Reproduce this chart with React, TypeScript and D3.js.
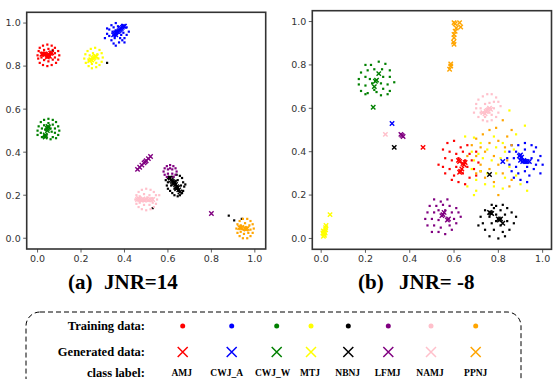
import React from "react";
import * as d3 from "d3";

type P = [number, number];

const classLabels = ["AMJ", "CWJ_A", "CWJ_W", "MTJ", "NBNJ", "LFMJ", "NAMJ", "PPNJ"];
const classColors = ["#ff0000", "#0000ff", "#008000", "#ffff00", "#000000", "#800080", "#ffc0cb", "#ffa500"];
const xTicks = [0, 0.2, 0.4, 0.6, 0.8, 1.0];
const yTicks = [0, 0.2, 0.4, 0.6, 0.8, 1.0];
const panelTitles = [["(a)", "JNR=14"], ["(b)", "JNR= -8"]];
const rowLabels = ["Training data:", "Generated data:", "class label:"];

// ---------- Panel A (JNR=14) ----------
const aTrainAMJ: P[] = [[0.0,0.85],[0.005,0.87],[0.01,0.885],[0.025,0.895],[0.045,0.9],[0.065,0.895],[0.08,0.885],[0.095,0.87],[0.1,0.85],[0.095,0.83],[0.085,0.815],[0.065,0.805],[0.045,0.8],[0.025,0.805],[0.01,0.815],[0.003,0.835],[0.02,0.86],[0.03,0.875],[0.05,0.88],[0.07,0.875],[0.08,0.86],[0.08,0.84],[0.07,0.83],[0.05,0.822],[0.03,0.828],[0.018,0.84]];
const aGenAMJ: P[] = [[0.02,0.855],[0.025,0.857],[0.03,0.855],[0.035,0.856],[0.045,0.85],[0.05,0.848],[0.055,0.845],[0.06,0.86],[0.065,0.862],[0.045,0.842],[0.05,0.855]];
const aTrainCWJA: P[] = [[0.31,0.93],[0.32,0.95],[0.33,0.97],[0.34,0.99],[0.36,1.0],[0.33,0.94],[0.34,0.92],[0.35,0.905],[0.36,0.895],[0.375,0.91],[0.39,0.92],[0.4,0.93],[0.41,0.945],[0.42,0.96],[0.41,0.98],[0.39,0.99],[0.35,0.98],[0.345,0.96],[0.355,0.93],[0.38,0.93],[0.395,0.955],[0.32,0.975],[0.37,0.985],[0.4,0.91],[0.36,0.96],[0.385,0.945]];
const aGenCWJA: P[] = [[0.35,0.945],[0.355,0.95],[0.36,0.955],[0.365,0.96],[0.37,0.96],[0.375,0.965],[0.38,0.97],[0.385,0.975],[0.39,0.98],[0.395,0.985],[0.4,0.985],[0.36,0.945]];
const aTrainCWJW: P[] = [[0.0,0.48],[0.0,0.5],[0.005,0.52],[0.015,0.54],[0.03,0.55],[0.05,0.555],[0.07,0.55],[0.085,0.54],[0.095,0.52],[0.1,0.5],[0.095,0.48],[0.085,0.465],[0.015,0.49],[0.02,0.51],[0.03,0.525],[0.05,0.535],[0.07,0.528],[0.08,0.51],[0.08,0.49],[0.07,0.47],[0.06,0.46],[0.035,0.505],[0.045,0.515],[0.06,0.51],[0.065,0.495],[0.02,0.47]];
const aGenCWJW: P[] = [[0.045,0.5],[0.045,0.51],[0.048,0.52],[0.05,0.515],[0.035,0.47],[0.037,0.475],[0.035,0.48]];
const aTrainMTJ: P[] = [[0.215,0.835],[0.22,0.855],[0.23,0.87],[0.245,0.88],[0.265,0.885],[0.285,0.875],[0.295,0.86],[0.3,0.84],[0.295,0.82],[0.285,0.805],[0.27,0.795],[0.25,0.79],[0.235,0.8],[0.222,0.815],[0.24,0.85],[0.255,0.86],[0.275,0.855],[0.28,0.835],[0.27,0.815],[0.25,0.81],[0.235,0.825]];
const aGenMTJ: P[] = [[0.24,0.825],[0.245,0.83],[0.25,0.828],[0.26,0.84],[0.265,0.845],[0.27,0.845],[0.255,0.835]];
const aTrainNBNJ: P[] = [[0.59,0.27],[0.6,0.26],[0.6,0.23],[0.61,0.22],[0.62,0.21],[0.63,0.2],[0.645,0.195],[0.655,0.2],[0.665,0.21],[0.67,0.22],[0.675,0.24],[0.67,0.26],[0.665,0.28],[0.655,0.29],[0.64,0.295],[0.625,0.285],[0.61,0.285],[0.6,0.28],[0.615,0.245],[0.63,0.23],[0.66,0.245],[0.645,0.27],[0.595,0.245],[0.68,0.25],[0.65,0.22],[0.53,0.14],[0.88,0.105],[0.905,0.083],[0.94,0.09],[0.32,0.815],[0.07,0.87]];
const aGenNBNJ: P[] = [[0.61,0.28],[0.615,0.27],[0.62,0.265],[0.625,0.26],[0.63,0.255],[0.635,0.25],[0.64,0.24],[0.645,0.235],[0.65,0.225],[0.655,0.215],[0.63,0.26],[0.64,0.23]];
const aTrainLFMJ: P[] = [[0.58,0.31],[0.585,0.325],[0.595,0.335],[0.61,0.34],[0.625,0.335],[0.635,0.325],[0.64,0.31],[0.635,0.295],[0.625,0.285],[0.61,0.28],[0.595,0.285],[0.585,0.295],[0.6,0.32],[0.62,0.32],[0.6,0.3],[0.62,0.3],[0.61,0.325]];
const aGenLFMJ: P[] = [[0.46,0.32],[0.47,0.33],[0.48,0.34],[0.49,0.35],[0.495,0.355],[0.5,0.36],[0.51,0.37],[0.52,0.38],[0.8,0.115]];
const aTrainNAMJ: P[] = [[0.45,0.18],[0.455,0.2],[0.465,0.215],[0.48,0.225],[0.5,0.23],[0.52,0.225],[0.535,0.215],[0.545,0.2],[0.55,0.18],[0.545,0.16],[0.535,0.145],[0.52,0.135],[0.5,0.13],[0.48,0.135],[0.465,0.145],[0.455,0.16],[0.47,0.195],[0.49,0.205],[0.515,0.2],[0.53,0.185],[0.53,0.165],[0.515,0.155],[0.49,0.155],[0.47,0.165],[0.56,0.2],[0.505,0.19]];
const aGenNAMJ: P[] = [[0.46,0.18],[0.47,0.18],[0.48,0.178],[0.49,0.177],[0.5,0.18],[0.51,0.178],[0.52,0.18],[0.53,0.18],[0.465,0.185],[0.485,0.183]];
const aTrainPPNJ: P[] = [[0.915,0.045],[0.92,0.065],[0.93,0.08],[0.945,0.09],[0.965,0.09],[0.98,0.08],[0.99,0.065],[0.995,0.045],[0.99,0.025],[0.98,0.01],[0.965,0.0],[0.945,0.0],[0.93,0.01],[0.92,0.025],[0.935,0.06],[0.955,0.07],[0.975,0.06],[0.98,0.04],[0.97,0.025],[0.95,0.02],[0.935,0.03]];
const aGenPPNJ: P[] = [[0.93,0.05],[0.935,0.048],[0.94,0.05],[0.955,0.045],[0.96,0.043],[0.965,0.045]];

// ---------- Panel B (JNR=-8) ----------
const bTrainAMJ: P[] = [[0.57,0.44],[0.6,0.45],[0.63,0.42],[0.66,0.43],[0.55,0.41],[0.58,0.4],[0.61,0.39],[0.64,0.4],[0.67,0.39],[0.7,0.4],[0.56,0.37],[0.59,0.36],[0.62,0.37],[0.65,0.36],[0.68,0.36],[0.71,0.35],[0.55,0.33],[0.58,0.32],[0.61,0.33],[0.66,0.33],[0.69,0.32],[0.72,0.31],[0.56,0.3],[0.6,0.29],[0.64,0.3],[0.67,0.28],[0.59,0.27],[0.62,0.26],[0.65,0.25],[0.7,0.29],[0.53,0.34]];
const bGenAMJ: P[] = [[0.63,0.31],[0.625,0.305],[0.635,0.32],[0.64,0.345],[0.65,0.35],[0.645,0.34],[0.62,0.36],[0.625,0.355],[0.46,0.42]];
const bTrainCWJA: P[] = [[0.86,0.43],[0.89,0.43],[0.92,0.44],[0.95,0.43],[0.97,0.42],[0.85,0.4],[0.88,0.4],[0.92,0.41],[0.96,0.4],[0.99,0.38],[0.84,0.37],[0.87,0.37],[0.95,0.37],[0.98,0.36],[1.0,0.34],[0.85,0.34],[0.88,0.33],[0.93,0.33],[0.96,0.32],[0.99,0.3],[0.86,0.31],[0.89,0.3],[0.92,0.31],[0.94,0.29],[0.9,0.27],[0.93,0.26],[0.87,0.28],[0.97,0.34]];
const bGenCWJA: P[] = [[0.895,0.38],[0.9,0.385],[0.905,0.375],[0.91,0.355],[0.92,0.355],[0.93,0.355],[0.94,0.355],[0.9,0.36],[0.915,0.36],[0.82,0.355],[0.32,0.53]];
const bTrainCWJW: P[] = [[0.2,0.8],[0.225,0.8],[0.26,0.815],[0.29,0.805],[0.18,0.765],[0.21,0.775],[0.24,0.78],[0.275,0.78],[0.31,0.775],[0.17,0.735],[0.2,0.745],[0.22,0.735],[0.28,0.745],[0.31,0.745],[0.33,0.72],[0.17,0.71],[0.2,0.705],[0.23,0.715],[0.27,0.715],[0.3,0.71],[0.18,0.68],[0.21,0.67],[0.25,0.675],[0.28,0.69],[0.31,0.68],[0.2,0.665],[0.27,0.66],[0.24,0.685],[0.3,0.665]];
const bGenCWJW: P[] = [[0.26,0.76],[0.25,0.73],[0.245,0.725],[0.24,0.7],[0.235,0.605]];
const bTrainMTJ: P[] = [[0.65,0.47],[0.69,0.465],[0.72,0.44],[0.78,0.47],[0.82,0.44],[0.85,0.59],[0.92,0.52],[0.88,0.48],[0.68,0.4],[0.71,0.39],[0.75,0.41],[0.79,0.42],[0.83,0.4],[0.87,0.41],[0.69,0.36],[0.73,0.37],[0.77,0.36],[0.81,0.37],[0.85,0.33],[0.68,0.32],[0.72,0.31],[0.75,0.3],[0.79,0.3],[0.83,0.28],[0.88,0.29],[0.7,0.27],[0.74,0.25],[0.78,0.24],[0.82,0.23],[0.66,0.24],[0.7,0.22],[0.9,0.25],[0.93,0.22],[0.69,0.2]];
const bGenMTJ: P[] = [[0.01,0.01],[0.012,0.02],[0.015,0.03],[0.01,0.035],[0.02,0.04],[0.02,0.05],[0.022,0.06],[0.015,0.015],[0.008,0.025],[0.018,0.025],[0.04,0.11]];
const bTrainNBNJ: P[] = [[0.77,0.155],[0.79,0.15],[0.82,0.155],[0.74,0.13],[0.78,0.14],[0.81,0.13],[0.84,0.14],[0.72,0.1],[0.76,0.1],[0.79,0.11],[0.83,0.11],[0.86,0.12],[0.73,0.07],[0.77,0.07],[0.81,0.06],[0.84,0.08],[0.87,0.07],[0.74,0.04],[0.78,0.04],[0.82,0.03],[0.85,0.04],[0.76,0.01],[0.8,0.0],[0.83,0.01],[0.71,0.06],[0.88,0.1],[0.79,0.08]];
const bGenNBNJ: P[] = [[0.76,0.12],[0.765,0.118],[0.77,0.115],[0.8,0.09],[0.805,0.085],[0.81,0.09],[0.82,0.07],[0.76,0.295],[0.33,0.42]];
const bTrainLFMJ: P[] = [[0.51,0.18],[0.54,0.17],[0.57,0.18],[0.49,0.15],[0.52,0.15],[0.55,0.155],[0.58,0.15],[0.61,0.14],[0.48,0.12],[0.51,0.12],[0.53,0.13],[0.56,0.13],[0.59,0.12],[0.62,0.12],[0.47,0.09],[0.5,0.09],[0.53,0.085],[0.6,0.09],[0.63,0.1],[0.48,0.06],[0.51,0.06],[0.54,0.05],[0.58,0.06],[0.61,0.07],[0.5,0.03],[0.53,0.03],[0.56,0.02],[0.59,0.04]];
const bGenLFMJ: P[] = [[0.545,0.105],[0.55,0.11],[0.555,0.12],[0.575,0.09],[0.57,0.085],[0.36,0.48],[0.365,0.475],[0.37,0.47]];
const bTrainNAMJ: P[] = [[0.7,0.62],[0.71,0.64],[0.73,0.655],[0.75,0.665],[0.77,0.665],[0.79,0.65],[0.8,0.63],[0.81,0.61],[0.8,0.58],[0.79,0.56],[0.77,0.545],[0.75,0.54],[0.73,0.545],[0.71,0.56],[0.69,0.58],[0.72,0.6],[0.74,0.62],[0.76,0.625],[0.78,0.6],[0.77,0.57],[0.74,0.56],[0.72,0.58],[0.75,0.6],[0.76,0.58],[0.78,0.63],[0.7,0.6]];
const bGenNAMJ: P[] = [[0.73,0.58],[0.74,0.575],[0.75,0.59],[0.76,0.6],[0.765,0.595],[0.745,0.585],[0.29,0.48]];
const bTrainPPNJ: P[] = [[0.7,0.46],[0.73,0.48],[0.76,0.5],[0.79,0.51],[0.82,0.545],[0.86,0.5],[0.68,0.43],[0.72,0.42],[0.76,0.44],[0.8,0.45],[0.84,0.47],[0.86,0.43],[0.66,0.38],[0.7,0.38],[0.74,0.4],[0.78,0.38],[0.83,0.42],[0.72,0.34],[0.76,0.32],[0.8,0.34],[0.84,0.36],[0.74,0.28],[0.78,0.26],[0.82,0.3],[0.86,0.27],[0.7,0.3],[0.8,0.2],[0.85,0.24]];
const bGenPPNJ: P[] = [[0.6,0.995],[0.605,0.99],[0.625,0.995],[0.61,0.97],[0.605,0.955],[0.6,0.94],[0.6,0.925],[0.598,0.905],[0.6,0.895],[0.63,0.975],[0.58,0.78],[0.585,0.795],[0.585,0.805]];

const panelATrain = [aTrainAMJ, aTrainCWJA, aTrainCWJW, aTrainMTJ, aTrainNBNJ, aTrainLFMJ, aTrainNAMJ, aTrainPPNJ];
const panelAGen = [aGenAMJ, aGenCWJA, aGenCWJW, aGenMTJ, aGenNBNJ, aGenLFMJ, aGenNAMJ, aGenPPNJ];
const panelBTrain = [bTrainAMJ, bTrainCWJA, bTrainCWJW, bTrainMTJ, bTrainNBNJ, bTrainLFMJ, bTrainNAMJ, bTrainPPNJ];
const panelBGen = [bGenAMJ, bGenCWJA, bGenCWJW, bGenMTJ, bGenNBNJ, bGenLFMJ, bGenNAMJ, bGenPPNJ];

const W = 553;
const H = 379;

function Panel({ frame, xDom, yDom, train, gen }: { frame: { l: number; r: number; t: number; b: number }; xDom: [number, number]; yDom: [number, number]; train: P[][]; gen: P[][] }) {
  const x = d3.scaleLinear().domain(xDom).range([frame.l, frame.r]);
  const y = d3.scaleLinear().domain(yDom).range([frame.b, frame.t]);
  const fmt = d3.format(".1f");
  const xs = 2.2;
  return (
    <g>
      <rect x={frame.l} y={frame.t} width={frame.r - frame.l} height={frame.b - frame.t} fill="#fff" />
      {train.map((pts, ci) =>
        pts.map((p, i) => (
          <rect key={`t${ci}-${i}`} x={x(p[0]) - 1.1} y={y(p[1]) - 1.1} width={2.2} height={2.2} fill={classColors[ci]} />
        ))
      )}
      {gen.map((pts, ci) =>
        pts.map((p, i) => {
          const cx = x(p[0]);
          const cy = y(p[1]);
          return (
            <path key={`g${ci}-${i}`} d={`M${cx - xs},${cy - xs}L${cx + xs},${cy + xs}M${cx - xs},${cy + xs}L${cx + xs},${cy - xs}`} stroke={classColors[ci]} strokeWidth={1.4} fill="none" />
          );
        })
      )}
      <rect x={frame.l} y={frame.t} width={frame.r - frame.l} height={frame.b - frame.t} fill="none" stroke="#333" strokeWidth={1.6} />
      {xTicks.map((t) => (
        <g key={`xt${t}`}>
          <line x1={x(t)} x2={x(t)} y1={frame.b} y2={frame.b + 3.5} stroke="#333" strokeWidth={0.8} />
          <text x={x(t)} y={frame.b + 12.5} fontSize={9.5} fill="#333" textAnchor="middle" fontFamily="DejaVu Sans">{fmt(t)}</text>
        </g>
      ))}
      {yTicks.map((t) => (
        <g key={`yt${t}`}>
          <line x1={frame.l - 3.5} x2={frame.l} y1={y(t)} y2={y(t)} stroke="#333" strokeWidth={0.8} />
          <text x={frame.l - 6} y={y(t) + 3.4} fontSize={9.5} fill="#333" textAnchor="end" fontFamily="DejaVu Sans">{fmt(t)}</text>
        </g>
      ))}
    </g>
  );
}

const legendX = [182.7, 231.7, 276.7, 311, 348.3, 388.3, 431, 475.7];
const legendLabelX = [181.7, 226.7, 272.7, 310, 347.7, 387.7, 430, 475.7];

export default function App() {
  const serif = "'Liberation Serif', 'Times New Roman', serif";
  return (
    <div style={{ position: "absolute", left: 0, top: 0, width: W, height: H, background: "#fff" }}>
      <svg width={W} height={H} viewBox={`0 0 ${W} ${H}`} style={{ display: "block" }}>
        <rect width={W} height={H} fill="#fff" />
        <Panel frame={{ l: 26.7, r: 265.7, t: 12.3, b: 249 }} xDom={[-0.05, 1.05]} yDom={[-0.05, 1.05]} train={panelATrain} gen={panelAGen} />
        <Panel frame={{ l: 312.3, r: 551.5, t: 10.7, b: 249.3 }} xDom={[-0.04, 1.04]} yDom={[-0.05, 1.05]} train={panelBTrain} gen={panelBGen} />
        <text x={68} y={289} fontFamily={serif} fontWeight="bold" fontSize={21}>{panelTitles[0][0]}</text>
        <text x={104} y={289} fontFamily={serif} fontWeight="bold" fontSize={21}>{panelTitles[0][1]}</text>
        <text x={358} y={289} fontFamily={serif} fontWeight="bold" fontSize={21}>{panelTitles[1][0]}</text>
        <text x={399} y={289} fontFamily={serif} fontWeight="bold" fontSize={21}>{panelTitles[1][1]}</text>
        <rect x={26} y={312} width={495} height={80} rx={14} ry={14} fill="none" stroke="#000" strokeWidth={1} strokeDasharray="5,3" />
        <text x={145} y={330} textAnchor="end" fontFamily={serif} fontWeight="bold" fontSize={12.5}>{rowLabels[0]}</text>
        <text x={145} y={356} textAnchor="end" fontFamily={serif} fontWeight="bold" fontSize={12.5}>{rowLabels[1]}</text>
        <text x={145} y={376.5} textAnchor="end" fontFamily={serif} fontWeight="bold" fontSize={12.5}>{rowLabels[2]}</text>
        {classLabels.map((lab, i) => {
          const cx = legendX[i];
          const cy = 352;
          const s = 5;
          return (
            <g key={lab}>
              <circle cx={cx} cy={326} r={2.5} fill={classColors[i]} />
              <path d={`M${cx - s},${cy - s}L${cx + s},${cy + s}M${cx - s},${cy + s}L${cx + s},${cy - s}`} stroke={classColors[i]} strokeWidth={1.5} fill="none" />
              <text x={legendLabelX[i]} y={376} textAnchor="middle" fontFamily={serif} fontWeight="bold" fontSize={9.5}>{lab}</text>
            </g>
          );
        })}
      </svg>
    </div>
  );
}
